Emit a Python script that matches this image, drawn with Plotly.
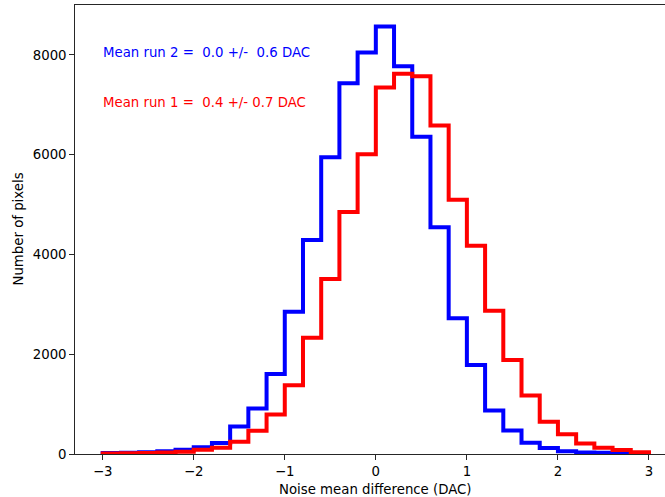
import numpy as np
import plotly.graph_objects as go

# Histogram binning: 30 bins of width 0.2 DAC between -3 and 3
bin_edges = np.round(np.arange(-3.0, 3.0001, 0.2), 2)

# Pixel counts per bin, run 2 (blue) and run 1 (red)
counts_run2 = [20, 25, 35, 55, 85, 135, 220, 550, 910, 1605,
               2850, 4290, 5950, 7430, 8050, 8570, 7770, 6360, 4545, 2720,
               1785, 870, 470, 225, 120, 55, 30, 25, 20, 5]
counts_run1 = [10, 15, 20, 30, 45, 85, 125, 245, 465, 790,
               1380, 2330, 3510, 4850, 6010, 7345, 7620, 7570, 6585, 5095,
               4175, 2870, 1885, 1175, 645, 395, 210, 125, 80, 35]

label_run2 = "Mean run 2 =  0.0 +/-  0.6 DAC"
label_run1 = "Mean run 1 =  0.4 +/- 0.7 DAC"
label_y_run2 = 8000
label_y_run1 = 7000

x_ticks = [-3, -2, -1, 0, 1, 2, 3]
x_tick_text = ["\u22123", "\u22122", "\u22121", "0", "1", "2", "3"]
y_ticks = [0, 2000, 4000, 6000, 8000]

FONT_SIZE = 13.3


def step_outline(edges, counts):
    """Outline of a step histogram: rises from zero at the first edge,
    follows each bin top, and drops back to zero at the last edge."""
    xs = [edges[0]] + list(edges[:-1]) + [edges[-1]]
    ys = [0] + list(counts) + [0]
    return xs, ys


def keep_spaces(s):
    # preserve repeated blanks in SVG text
    return s.replace("  ", " \u00a0")


fig = go.Figure()
for counts, color in [(counts_run2, "#0000ff"), (counts_run1, "#ff0000")]:
    xs, ys = step_outline(bin_edges, counts)
    fig.add_trace(go.Scatter(
        x=xs, y=ys, mode="lines",
        line=dict(color=color, width=4, shape="hv"),
        showlegend=False, hoverinfo="skip",
    ))

font = dict(family="DejaVu Sans", size=FONT_SIZE, color="#000000")

fig.add_annotation(x=-3.0, y=label_y_run2, xref="x", yref="y",
                   text=keep_spaces(label_run2), showarrow=False,
                   xanchor="left", yanchor="middle", xshift=-2, yshift=2,
                   font=dict(family="DejaVu Sans", size=FONT_SIZE, color="#0000ff"))
fig.add_annotation(x=-3.0, y=label_y_run1, xref="x", yref="y",
                   text=keep_spaces(label_run1), showarrow=False,
                   xanchor="left", yanchor="middle", xshift=-2, yshift=2,
                   font=dict(family="DejaVu Sans", size=FONT_SIZE, color="#ff0000"))

# Axis titles
fig.add_annotation(x=0.0, y=0, xref="x", yref="paper",
                   text="Noise mean difference (DAC)", showarrow=False,
                   xanchor="center", yanchor="middle", yshift=-35, font=font)
fig.add_annotation(x=0, y=0.5, xref="paper", yref="paper",
                   text="Number of pixels", showarrow=False, textangle=-90,
                   xanchor="center", yanchor="middle", xshift=-57, font=font)

axis_common = dict(
    showgrid=False, zeroline=False, showline=True, linecolor="#262626",
    linewidth=1.1, ticks="outside", ticklen=4.7, tickwidth=1.1,
    tickcolor="#262626", tickfont=font,
)

fig.update_xaxes(range=[-3.304, 3.176], tickvals=x_ticks, ticktext=x_tick_text,
                 mirror=True, **axis_common)
fig.update_yaxes(range=[0, 9000], tickvals=y_ticks, mirror=False,
                 **axis_common)

fig.update_layout(
    width=665, height=497,
    margin=dict(l=75, r=0, t=5, b=43),
    plot_bgcolor="#ffffff", paper_bgcolor="#ffffff",
    font=font,
)

fig.write_html("out.html")
